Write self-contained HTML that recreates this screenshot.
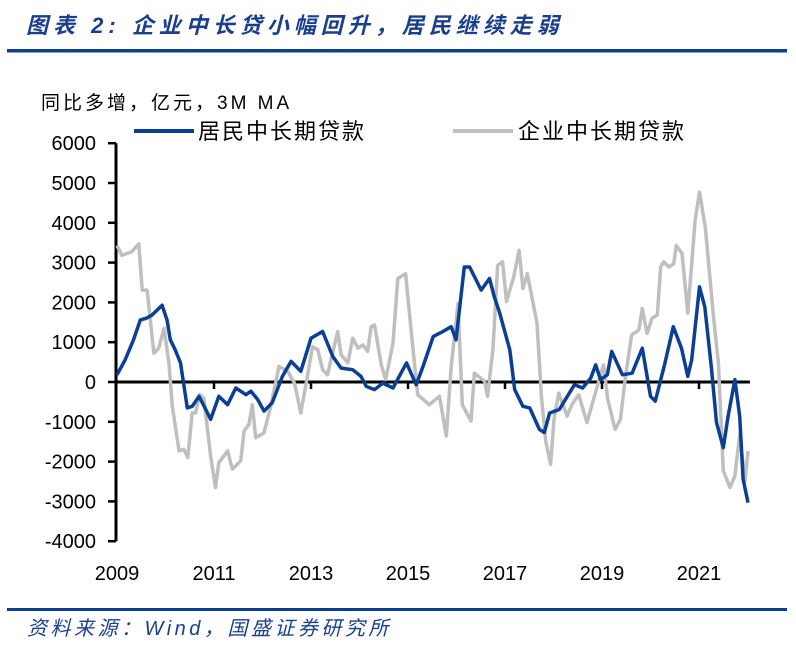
<!DOCTYPE html>
<html><head><meta charset="utf-8"><style>
body{margin:0;background:#fff;width:796px;height:646px;overflow:hidden;font-family:"Liberation Sans","Noto Sans CJK SC",sans-serif;}
</style></head><body>
<svg width="796" height="646" xmlns="http://www.w3.org/2000/svg">
<text x="26" y="33" font-size="22" font-weight="bold" font-style="italic" fill="#1a3f8f" letter-spacing="5" font-family="Liberation Sans,Noto Sans CJK SC,sans-serif">图表 2:  企业中长贷小幅回升，居民继续走弱</text>
<rect x="7" y="49" width="780" height="3.5" fill="#0b3f94"/>
<text x="41" y="109" font-size="19" letter-spacing="3" fill="#000">同比多增，亿元，3M MA</text>
<g>
<line x1="134" y1="131" x2="194" y2="131" stroke="#0b3f94" stroke-width="4"/>
<text x="198" y="139" font-size="22" letter-spacing="2" fill="#000">居民中长期贷款</text>
<line x1="453" y1="131" x2="513" y2="131" stroke="#bfbfbf" stroke-width="4"/>
<text x="518" y="139" font-size="22" letter-spacing="2" fill="#000">企业中长期贷款</text>
</g>
<g id="axes"></g>
<g id="series"></g>
<rect x="7" y="608" width="780" height="3" fill="#0b3f94"/>
<text x="27" y="635" font-size="20" font-style="italic" letter-spacing="3.5" fill="#1a3f8f">资料来源：Wind，国盛证券研究所</text>
</svg>
<script>
const yTicks=[6000,5000,4000,3000,2000,1000,0,-1000,-2000,-3000,-4000];
const xTicks=[2009,2011,2013,2015,2017,2019,2021];
const hhDates=[2009.0,2009.17,2009.34,2009.48,2009.6,2009.72,2009.93,2010.03,2010.1,2010.2,2010.31,2010.45,2010.55,2010.69,2010.83,2010.93,2011.1,2011.28,2011.45,2011.66,2011.76,2011.9,2012.03,2012.2,2012.41,2012.59,2012.79,2013.0,2013.24,2013.45,2013.62,2013.86,2014.03,2014.14,2014.31,2014.48,2014.69,2014.97,2015.17,2015.31,2015.52,2015.72,2015.89,2015.99,2016.16,2016.27,2016.51,2016.68,2016.78,2016.89,2017.1,2017.2,2017.37,2017.51,2017.71,2017.81,2017.92,2018.12,2018.43,2018.6,2018.77,2018.87,2018.97,2019.11,2019.2,2019.42,2019.62,2019.83,2020.0,2020.1,2020.3,2020.47,2020.64,2020.77,2020.85,2021.01,2021.12,2021.26,2021.36,2021.5,2021.6,2021.74,2021.84,2021.91,2022.01];
const hhValues=[180,560,1060,1560,1600,1680,1930,1560,1060,810,480,-650,-610,-360,-690,-940,-360,-570,-150,-320,-230,-440,-730,-520,140,520,270,1100,1270,640,350,310,140,-110,-190,-30,-150,480,-70,390,1140,1270,1390,1060,2890,2890,2310,2600,2140,1730,810,-190,-610,-650,-1190,-1270,-780,-690,-70,-150,100,430,60,180,770,180,220,850,-360,-480,480,1390,850,140,560,2390,1890,310,-1020,-1650,-860,60,-860,-2440,-3030];
const corpDates=[2009.0,2009.1,2009.3,2009.45,2009.52,2009.62,2009.76,2009.86,2009.97,2010.07,2010.14,2010.28,2010.38,2010.46,2010.55,2010.62,2010.7,2010.79,2010.93,2011.03,2011.1,2011.28,2011.38,2011.55,2011.62,2011.72,2011.79,2011.86,2012.03,2012.17,2012.34,2012.52,2012.66,2012.79,2012.9,2013.03,2013.14,2013.24,2013.34,2013.55,2013.62,2013.76,2013.86,2013.97,2014.07,2014.17,2014.24,2014.31,2014.45,2014.54,2014.69,2014.79,2014.95,2015.07,2015.2,2015.44,2015.65,2015.79,2015.89,2016.03,2016.12,2016.3,2016.37,2016.58,2016.64,2016.75,2016.85,2016.95,2017.03,2017.18,2017.29,2017.37,2017.46,2017.66,2017.75,2017.84,2017.94,2018.01,2018.11,2018.28,2018.38,2018.52,2018.69,2018.9,2019.03,2019.12,2019.27,2019.38,2019.48,2019.61,2019.76,2019.83,2019.93,2020.03,2020.14,2020.21,2020.27,2020.38,2020.48,2020.53,2020.65,2020.77,2020.92,2021.01,2021.13,2021.3,2021.4,2021.5,2021.64,2021.74,2021.84,2021.95,2022.01];
const corpValues=[3430,3180,3270,3470,2310,2310,720,850,1350,480,-610,-1730,-1690,-1900,-780,-780,-320,-400,-1860,-2650,-2030,-1730,-2190,-1980,-1230,-1070,-570,-1400,-1280,-610,390,270,-30,-780,-30,890,810,310,180,1270,680,480,1100,850,930,770,1390,1430,430,60,980,2600,2720,1220,-320,-570,-360,-1360,390,1970,-570,-980,220,20,-360,810,2930,3020,2020,2640,3310,2350,2720,1480,-360,-1480,-2070,-940,-280,-860,-570,-320,-1020,-110,430,-440,-1190,-940,100,1180,1310,1850,1220,1600,1680,2890,3020,2890,2970,3430,3230,1730,4060,4770,3890,1640,480,-2230,-2650,-2360,-1320,-2480,-1730];
const NS="http://www.w3.org/2000/svg";
const X0=117,PXY=48.5;
function xS(t){return X0+(t-2009)*PXY;}
function yS(v){return 382-v*0.0398;}
const axes=document.getElementById('axes'),series=document.getElementById('series');
function mk(tag,at,parent){const e=document.createElementNS(NS,tag);for(const k in at)e.setAttribute(k,at[k]);parent.appendChild(e);return e;}
const yl=mk('line',{x1:116,y1:yS(6000),x2:116,y2:yS(-4000),stroke:'#000','stroke-width':3},axes);


yTicks.forEach(v=>{
  const t=mk('line',{x1:108,y1:yS(v),x2:116,y2:yS(v),stroke:'#000','stroke-width':2.5},axes);
  
  
  const l=mk('text',{x:96,y:yS(v)+7,'text-anchor':'end','font-size':20,fill:'#000'},axes);
  l.textContent=v;
  
  
});
xTicks.forEach(t=>{
  const l=mk('text',{x:xS(t),y:580,'text-anchor':'middle','font-size':20,fill:'#000'},axes);
  l.textContent=t;
  
  
  if(t>2009){const k=mk('line',{x1:xS(t),y1:yS(0),x2:xS(t),y2:yS(0)+7,stroke:'#000','stroke-width':2.5},axes);
  
  }
});
const xl=mk('line',{x1:116,y1:yS(0),x2:xS(2022.05),y2:yS(0),stroke:'#000','stroke-width':3},axes);


function line(d,v){return d.map((t,i)=>(i?'L':'M')+xS(t).toFixed(1)+','+yS(v[i]).toFixed(1)).join('');}
const pc=mk('path',{d:line(corpDates,corpValues),fill:'none',stroke:'#bfbfbf','stroke-width':3.5,'stroke-linejoin':'round'},series);


const ph=mk('path',{d:line(hhDates,hhValues),fill:'none',stroke:'#0b3f94','stroke-width':3.5,'stroke-linejoin':'round'},series);


</script>
</body></html>
